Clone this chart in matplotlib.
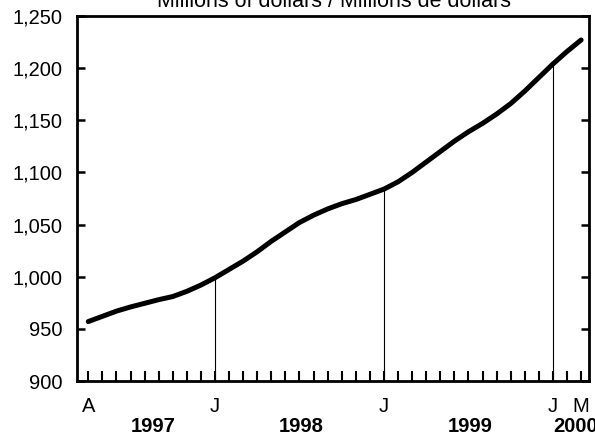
import numpy as np
import matplotlib.pyplot as plt
from matplotlib.ticker import FuncFormatter
import matplotlib.transforms as mtransforms

plt.rcParams['font.family'] = ['Liberation Sans', 'DejaVu Sans']

# monthly values, April 1997 to March 2000 (millions of dollars)
values = [957, 962, 967, 971, 974.5, 978, 981, 986, 992,
          999, 1007, 1015, 1024, 1034, 1043, 1052, 1059, 1065, 1070, 1074, 1079,
          1084, 1091, 1100, 1110, 1120, 1130, 1139, 1147, 1156, 1166, 1178, 1191,
          1204, 1216, 1227]
month_labels = ['A', 'J', 'J', 'J', 'M']
month_label_pos = [0, 9, 21, 33, 35]
years = ['1997', '1998', '1999', '2000']
year_pos = [4.6, 15.1, 27.1, 34.6]
jan_idx = [9, 21, 33]
title = 'Millions of dollars / Millions de dollars'

def main():
    x = np.arange(len(values))

    fig = plt.figure(figsize=(5.95, 4.37), dpi=100)
    ax = fig.add_axes([0.1294, 0.1281, 0.8605, 0.8353])

    ax.vlines(jan_idx, 900, [values[i] for i in jan_idx], color='black', linewidth=0.8)
    ax.plot(x, values, color='black', linewidth=3.6, solid_capstyle='round',
            solid_joinstyle='round', zorder=3)

    ax.set_xlim(-0.8, 35.56)
    ax.set_ylim(900, 1250)
    ax.set_yticks(np.arange(900, 1251, 50))
    ax.yaxis.set_major_formatter(FuncFormatter(lambda v, p: f'{int(v):,}'))
    ax.tick_params(axis='y', direction='in', length=6, width=1.8, labelsize=14.5,
                   right=True, pad=10.5)
    ax.set_xticks(x)
    ax.set_xticklabels([])
    ax.tick_params(axis='x', direction='in', length=7, width=1.5)

    for s in ax.spines.values():
        s.set_linewidth(2)

    trans = mtransforms.blended_transform_factory(ax.transData, fig.transFigure)
    for lab, p in zip(month_labels, month_label_pos):
        ax.text(p, 1 - 406 / 437, lab, transform=trans, ha='center', va='center',
                fontsize=14.5)
    for lab, p in zip(years, year_pos):
        ax.text(p, 1 - 427 / 437, lab, transform=trans, ha='center', va='center',
                fontsize=14.5, fontweight='bold')

    fig.text(0.5614, 1 - 7 / 437, title, ha='center', va='baseline', fontsize=15.5)

    fig.savefig('out.png', dpi=100)


if __name__ == "__main__":
    main()
